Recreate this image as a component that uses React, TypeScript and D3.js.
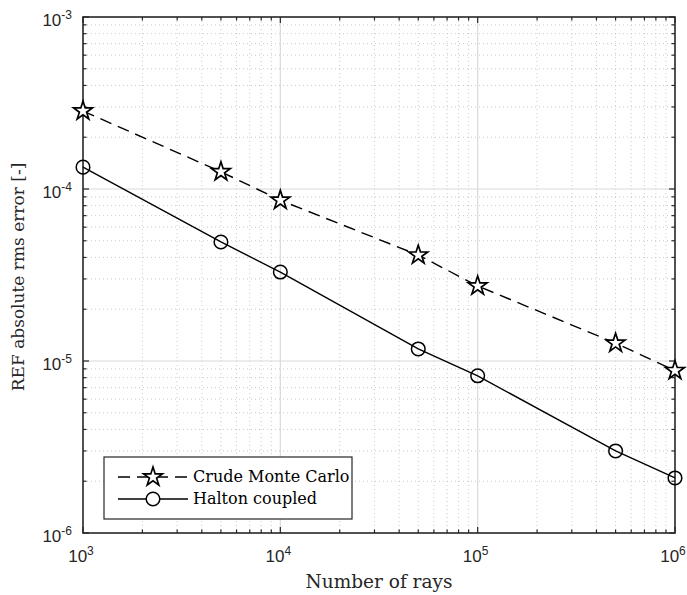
import * as d3 from "d3";
import { useEffect, useRef } from "react";

const rays = [1e3, 5e3, 1e4, 5e4, 1e5, 5e5, 1e6];
const crudeMC = [2.84e-4, 1.26e-4, 8.6e-5, 4.13e-5, 2.73e-5, 1.27e-5, 8.8e-6];
const halton = [1.34e-4, 4.92e-5, 3.29e-5, 1.175e-5, 8.2e-6, 3.0e-6, 2.09e-6];
const xExps = [3, 4, 5, 6];
const yExps = [-3, -4, -5, -6];

const App = () => {
  const ref = useRef<SVGSVGElement>(null);

  useEffect(() => {
    const W = 687, H = 595;
    const margin = { top: 17, right: 12, bottom: 62, left: 83 };
    const width = W - margin.left - margin.right;
    const height = H - margin.top - margin.bottom;

    const root = d3.select(ref.current);
    root.selectAll("*").remove();
    root.append("rect").attr("width", W).attr("height", H).attr("fill", "#fff");
    const svg = root.append("g").attr("transform", `translate(${margin.left},${margin.top})`);

    const x = d3.scaleLog().domain([1e3, 1e6]).range([0, width]);
    const y = d3.scaleLog().domain([1e-6, 1e-3]).range([height, 0]);

    // minor grid
    const minorX: number[] = [];
    const minorY: number[] = [];
    for (let e = 3; e < 6; e++) for (let m = 2; m <= 9; m++) minorX.push(m * 10 ** e);
    for (let e = -6; e < -3; e++) for (let m = 2; m <= 9; m++) minorY.push(m * 10 ** e);

    const grid = svg.append("g");
    grid.selectAll(".mx").data(minorX).join("line")
      .attr("x1", (d) => x(d)).attr("x2", (d) => x(d)).attr("y1", 0).attr("y2", height)
      .attr("stroke", "#bdbdbd").attr("stroke-width", 0.8).attr("stroke-dasharray", "1,3");
    grid.selectAll(".my").data(minorY).join("line")
      .attr("y1", (d) => y(d)).attr("y2", (d) => y(d)).attr("x1", 0).attr("x2", width)
      .attr("stroke", "#bdbdbd").attr("stroke-width", 0.8).attr("stroke-dasharray", "1,3");
    grid.selectAll(".Mx").data(xExps.slice(1, -1)).join("line")
      .attr("x1", (d) => x(10 ** d)).attr("x2", (d) => x(10 ** d)).attr("y1", 0).attr("y2", height)
      .attr("stroke", "#dadada").attr("stroke-width", 1.2);
    grid.selectAll(".My").data(yExps.slice(1, -1)).join("line")
      .attr("y1", (d) => y(10 ** d)).attr("y2", (d) => y(10 ** d)).attr("x1", 0).attr("x2", width)
      .attr("stroke", "#dadada").attr("stroke-width", 1.2);

    // ticks (inside, both sides)
    const isMajor = (v: number) => Math.abs(Math.log10(v) - Math.round(Math.log10(v))) < 1e-9;
    const ticks = svg.append("g").attr("stroke", "#262626").attr("stroke-width", 1.2);
    const allX = [...xExps.map((e) => 10 ** e), ...minorX];
    const allY = [...yExps.map((e) => 10 ** e), ...minorY];
    allX.forEach((v) => {
      const len = isMajor(v) ? 6 : 3.5;
      ticks.append("line").attr("x1", x(v)).attr("x2", x(v)).attr("y1", height).attr("y2", height - len);
      ticks.append("line").attr("x1", x(v)).attr("x2", x(v)).attr("y1", 0).attr("y2", len);
    });
    allY.forEach((v) => {
      const len = isMajor(v) ? 6 : 3.5;
      ticks.append("line").attr("y1", y(v)).attr("y2", y(v)).attr("x1", 0).attr("x2", len);
      ticks.append("line").attr("y1", y(v)).attr("y2", y(v)).attr("x1", width).attr("x2", width - len);
    });

    // box
    svg.append("rect").attr("width", width).attr("height", height)
      .attr("fill", "none").attr("stroke", "#262626").attr("stroke-width", 1.6);

    // tick labels
    const tickFont = "'Liberation Sans', Arial, sans-serif";
    xExps.forEach((e) => {
      const t = svg.append("text").attr("x", x(10 ** e) - 2).attr("y", height + 29)
        .attr("text-anchor", "middle").attr("font-family", tickFont).attr("font-size", 17).attr("fill", "#262626");
      t.append("tspan").text("10");
      t.append("tspan").attr("dy", -7).attr("font-size", 12).text(String(e));
    });
    yExps.forEach((e) => {
      const t = svg.append("text").attr("x", -11).attr("y", y(10 ** e) + 9)
        .attr("text-anchor", "end").attr("font-family", tickFont).attr("font-size", 17).attr("fill", "#262626");
      t.append("tspan").text("10");
      t.append("tspan").attr("dy", -7).attr("font-size", 12).text(String(e));
    });

    // axis labels
    const serif = "'DejaVu Serif', 'Liberation Serif', serif";
    svg.append("text").attr("x", width / 2).attr("y", height + 55).attr("text-anchor", "middle")
      .attr("font-family", serif).attr("font-size", 18.5).attr("fill", "#262626").text("Number of rays");
    svg.append("text").attr("transform", `translate(${-59},${height / 2 + 2}) rotate(-90)`)
      .attr("text-anchor", "middle").attr("font-family", serif).attr("font-size", 17)
      .attr("fill", "#262626").text("REF absolute rms error [-]");

    const line = d3.line<number>().x((_, i) => x(rays[i])).y((d) => y(d));
    const plot = svg.append("g");
    plot.append("path").datum(crudeMC).attr("d", line).attr("fill", "none")
      .attr("stroke", "#000").attr("stroke-width", 1.4).attr("stroke-dasharray", "12,7");
    plot.append("path").datum(halton).attr("d", line).attr("fill", "none")
      .attr("stroke", "#000").attr("stroke-width", 1.4);

    const star = d3.symbol().type(d3.symbolStar).size(110);
    plot.selectAll(".star").data(crudeMC).join("path")
      .attr("d", star).attr("transform", (d, i) => `translate(${x(rays[i])},${y(d)})`)
      .attr("fill", "#fff").attr("stroke", "#000").attr("stroke-width", 1.7);
    plot.selectAll(".circ").data(halton).join("circle")
      .attr("cx", (_, i) => x(rays[i])).attr("cy", (d) => y(d)).attr("r", 6.8)
      .attr("fill", "none").attr("stroke", "#000").attr("stroke-width", 1.5);

    // legend
    const lg = svg.append("g").attr("transform", `translate(${104 - margin.left},${457 - margin.top})`);
    lg.append("rect").attr("width", 248).attr("height", 62).attr("fill", "#fff")
      .attr("stroke", "#262626").attr("stroke-width", 1.2);
    lg.append("line").attr("x1", 14).attr("x2", 84).attr("y1", 20).attr("y2", 20)
      .attr("stroke", "#000").attr("stroke-width", 1.4).attr("stroke-dasharray", "12,7");
    lg.append("path").attr("d", star).attr("transform", "translate(49,20)")
      .attr("fill", "#fff").attr("stroke", "#000").attr("stroke-width", 1.7);
    lg.append("line").attr("x1", 14).attr("x2", 84).attr("y1", 42).attr("y2", 42)
      .attr("stroke", "#000").attr("stroke-width", 1.4);
    lg.append("circle").attr("cx", 49).attr("cy", 42).attr("r", 6.8)
      .attr("fill", "#fff").attr("stroke", "#000").attr("stroke-width", 1.5);
    lg.append("text").attr("x", 89).attr("y", 25).attr("font-family", serif).attr("font-size", 16)
      .attr("fill", "#000").text("Crude Monte Carlo");
    lg.append("text").attr("x", 89).attr("y", 47).attr("font-family", serif).attr("font-size", 16)
      .attr("fill", "#000").text("Halton coupled");
  }, []);

  return (
    <svg ref={ref} width={687} height={595}
      style={{ position: "absolute", left: 0, top: 0, display: "block" }} />
  );
};

export default App;
